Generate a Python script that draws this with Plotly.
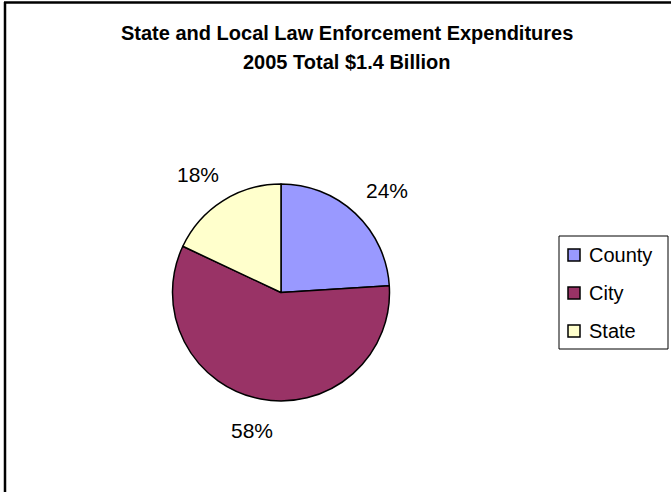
import math
import plotly.graph_objects as go

labels = ["County", "City", "State"]
values = [24, 58, 18]
colors = ["#9999FF", "#993366", "#FFFFCC"]
title_lines = ["State and Local Law Enforcement Expenditures", "2005 Total $1.4 Billion"]

W, H = 671, 492
cx, cy, r = 281, 292.5, 108.5  # pie centre/radius in pixels
FONT = "Liberation Sans, Arial"


def px(x):
    return x / W


def py(y):
    return 1 - y / H


fig = go.Figure()
fig.add_trace(go.Pie(
    labels=labels, values=values, sort=False, direction="clockwise", rotation=0,
    marker=dict(colors=colors, line=dict(color="#000000", width=1.5)),
    textinfo="none", hoverinfo="label+percent",
    domain=dict(x=[px(cx - r), px(cx + r)], y=[py(cy + r), py(cy - r)]),
    showlegend=False,
))

annotations = []
shapes = []
for i, line in enumerate(title_lines):
    annotations.append(dict(
        text="<b>%s</b>" % line, x=px(347), y=py(33 + 29 * i), xref="paper", yref="paper",
        showarrow=False, xanchor="center", yanchor="middle",
        font=dict(family=FONT, size=20, color="#000000")))

# percentage labels placed outside each slice along its mid-angle
total = sum(values)
cum = 0
for v in values:
    mid = (cum + v / 2) / total
    cum += v
    th = 2 * math.pi * mid
    s, c = math.sin(th), math.cos(th)
    d = r * 1.2
    ax = cx + d * s
    ay = cy - d * c
    w2, h2 = 24, 10
    lx = ax + s * w2
    ly = ay - c * h2
    annotations.append(dict(
        text="%d%%" % round(100 * v / total), x=px(lx), y=py(ly), xref="paper", yref="paper",
        showarrow=False, xanchor="center", yanchor="middle",
        font=dict(family=FONT, size=21, color="#000000")))

# legend box
lx0, lx1, ly0, ly1 = 559, 668, 236, 349
shapes.append(dict(type="rect", xref="paper", yref="paper", x0=px(lx0), x1=px(lx1),
                   y0=py(ly1), y1=py(ly0), line=dict(color="black", width=1), fillcolor="white"))
for i, (lab, col) in enumerate(zip(labels, colors)):
    yc = 255 + 38 * i
    shapes.append(dict(type="rect", xref="paper", yref="paper", x0=px(568), x1=px(580),
                       y0=py(yc + 6), y1=py(yc - 6), line=dict(color="black", width=1.5),
                       fillcolor=col))
    annotations.append(dict(text=lab, x=px(587), y=py(yc), xref="paper", yref="paper",
                            showarrow=False, xanchor="left", yanchor="middle",
                            font=dict(family=FONT, size=20, color="#000000")))

# chart-area border (top and left edges visible)
shapes.append(dict(type="line", xref="paper", yref="paper", x0=px(5), x1=px(5), y0=0, y1=py(2),
                   line=dict(color="black", width=2.5)))
shapes.append(dict(type="line", xref="paper", yref="paper", x0=px(4), x1=1, y0=py(2.5), y1=py(2.5),
                   line=dict(color="black", width=2.5)))

fig.update_layout(
    width=W, height=H, margin=dict(l=0, r=0, t=0, b=0),
    paper_bgcolor="white", plot_bgcolor="white",
    annotations=annotations, shapes=shapes, showlegend=False,
)

fig.write_html("out.html")
